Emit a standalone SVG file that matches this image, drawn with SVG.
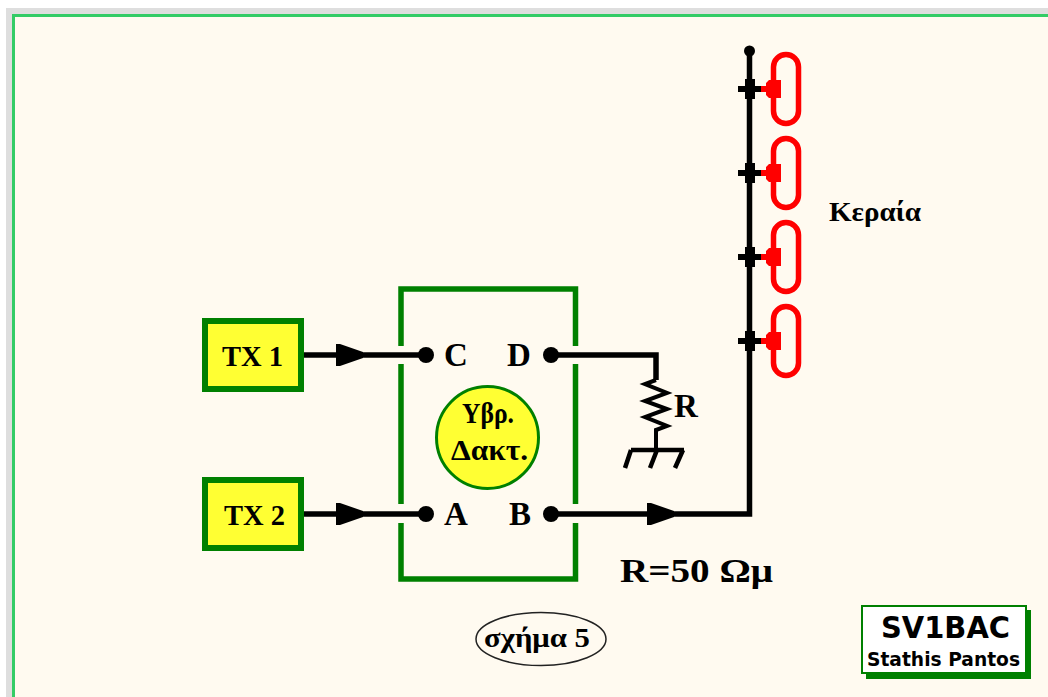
<svg xmlns="http://www.w3.org/2000/svg" width="1048" height="697" viewBox="0 0 1048 697">
<style>
.serif{font-family:"Liberation Serif","Times New Roman",serif;font-weight:bold;fill:#000}
.sans{font-family:"DejaVu Sans","Liberation Sans",sans-serif;font-weight:bold;fill:#000}
.gbox{fill:#ffff33;stroke:#008000;stroke-width:6}
.wire{fill:none;stroke:#000;stroke-width:5.5;stroke-linejoin:miter}
.red{fill:none;stroke:#ff0000;stroke-width:5.5}
</style>
<defs>
<path id="arrow" d="M0-11L4-11L27-3V3L4 11L0 11Z" fill="#000"/>
<g id="dipole">
<rect class="red" x="773.5" y="-34.5" width="25" height="69" rx="12.5"/>
<path d="M761-3H766V-6L769-9H781V9H769L766 6V3H761Z" fill="#ff0000"/>
<path d="M738-3H745V-10H755V-3H761V3H755V10H745V3H738Z" fill="#000"/>
</g>
</defs>
<rect width="1048" height="697" fill="#ffffff"/>
<rect x="6" y="8" width="1042" height="689" fill="#dedede"/>
<rect x="12" y="14" width="1036" height="683" fill="#33cc66"/>
<rect x="15" y="17" width="1033" height="680" fill="#fffaf0"/>

<g id="connectors">
<path class="wire" d="M304 355H426"/>
<use href="#arrow" x="336" y="355"/>
<path class="wire" d="M304 514H426"/>
<use href="#arrow" x="336" y="514"/>
<path class="wire" d="M551 355H656V380"/>
<path d="M656 380L645 384L667 393L645 401L667 409L645 417L667 426L656 430V450" fill="none" stroke="#000" stroke-width="4"/>
<path class="wire" d="M551 514H749.5V52"/>
<use href="#arrow" x="647" y="514"/>
<circle cx="749.5" cy="51" r="5.5" fill="#000"/>
<circle cx="426" cy="355" r="8" fill="#000"/>
<circle cx="426" cy="514" r="8" fill="#000"/>
<circle cx="551" cy="355" r="8" fill="#000"/>
<circle cx="551" cy="514" r="8" fill="#000"/>
</g>

<g id="tx1"><rect class="gbox" x="205" y="321" width="96" height="68"/><text class="serif" x="222" y="366" font-size="29" textLength="61" lengthAdjust="spacingAndGlyphs">TX 1</text></g>
<g id="tx2"><rect class="gbox" x="205" y="480" width="96" height="68"/><text class="serif" x="224" y="525" font-size="29" textLength="61" lengthAdjust="spacingAndGlyphs">TX 2</text></g>

<g id="hybrid">
<path d="M401 346V289H575.5V346M575.5 364V504M575.5 523V579H401V523M401 504V364" fill="none" stroke="#008000" stroke-width="5.5"/>
<text class="serif" x="444" y="366" font-size="33">C</text>
<text class="serif" x="444" y="525" font-size="33">A</text>
<text class="serif" x="507" y="366" font-size="33">D</text>
<text class="serif" x="509" y="525" font-size="33">B</text>
</g>
<g id="coupler"><circle cx="487.5" cy="437.5" r="51" fill="#ffff33" stroke="#008000" stroke-width="3"/>
<text class="serif" x="462" y="423" font-size="29" textLength="52" lengthAdjust="spacingAndGlyphs">Υβρ.</text>
<text class="serif" x="451" y="460" font-size="29" textLength="77" lengthAdjust="spacingAndGlyphs">Δακτ.</text></g>

<g id="resistor">
<path d="M631 450H684M631 450L625 468M657 450L650 468M683 450L675 468" fill="none" stroke="#000" stroke-width="4.5"/>
<text class="serif" x="674" y="417" font-size="33">R</text>
</g>

<g id="antenna">
<use href="#dipole" y="89"/><use href="#dipole" y="173"/><use href="#dipole" y="257"/><use href="#dipole" y="341"/>
<text class="serif" x="829" y="221" font-size="28" textLength="92" lengthAdjust="spacingAndGlyphs">Κεραία</text>
</g>

<text class="serif" x="620" y="582" font-size="33" textLength="153" lengthAdjust="spacingAndGlyphs">R=50 Ωμ</text>

<g id="caption"><ellipse cx="541" cy="639" rx="65" ry="26.5" fill="none" stroke="#222" stroke-width="1.5"/>
<text class="serif" x="484" y="647" font-size="28" textLength="106" lengthAdjust="spacingAndGlyphs">σχήμα 5</text></g>

<g id="badge">
<rect x="866" y="610" width="165" height="69" fill="#008000"/>
<rect x="862" y="606" width="164" height="67" fill="#ffffff" stroke="#008000" stroke-width="2"/>
<text class="sans" x="881" y="638" font-size="30" textLength="129" lengthAdjust="spacingAndGlyphs">SV1BAC</text>
<text class="sans" x="867" y="666" font-size="20" textLength="153" lengthAdjust="spacingAndGlyphs">Stathis Pantos</text>
</g>
</svg>
